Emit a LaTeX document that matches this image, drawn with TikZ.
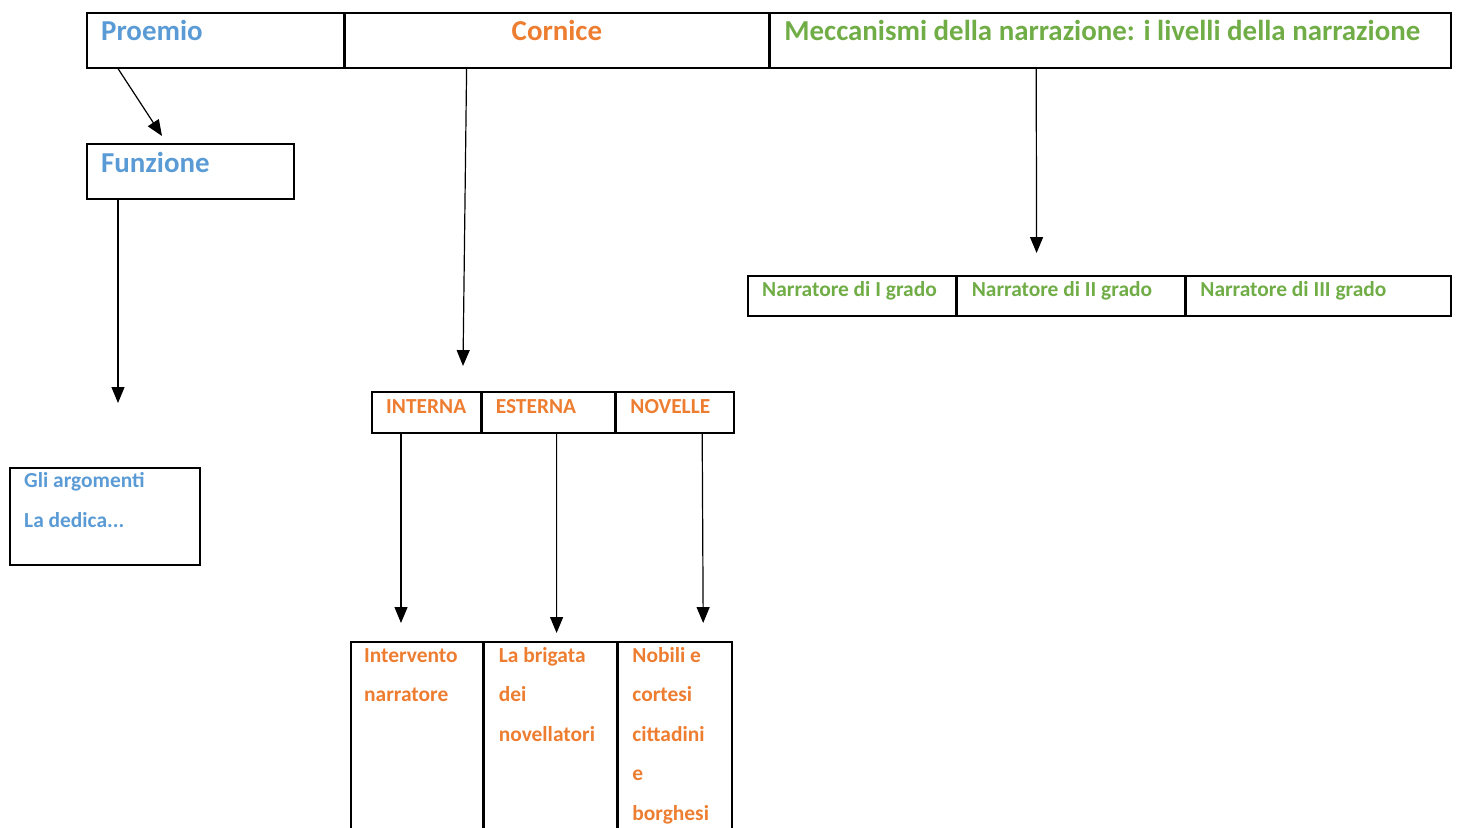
\documentclass[tikz,border=0pt]{standalone}
\usepackage{fontspec}
\setmainfont{Carlito}
\usetikzlibrary{positioning,calc,arrows.meta}
\definecolor{problue}{RGB}{91,155,213}
\definecolor{corange}{RGB}{237,125,49}
\definecolor{mgreen}{RGB}{112,173,71}
\tikzset{
  cell/.style 2 args={draw, line width=1.6, inner sep=0, anchor=north west, minimum width=#1bp, minimum height=#2bp},
  bigtxt/.style={font=\bfseries\fontsize{29}{34}\selectfont, inner sep=0},
  smalltxt/.style={font=\bfseries\fontsize{21.5}{39.5}\selectfont, align=left, inner sep=0, anchor=base west},
  arr/.style={-{Triangle[length=16,width=13]}, line width=1.2}
}
\begin{document}
\begin{tikzpicture}[x=1bp,y=-1bp]
  \useasboundingbox (0,0) rectangle (1457,827);

  % top row
  \node[cell={257}{55}] (proemio) at (86,12) {};
  \node[cell={423}{55}] (cornice) at (proemio.north east) {};
  \node[cell={681}{55}] (mecc) at (cornice.north east) {};
  \node[bigtxt, problue, anchor=base west] (tproemio) at ($(proemio.north west)+(15,28)$) {Proemio};
  \node[bigtxt, corange, anchor=base] (tcornice) at ($(cornice.north)+(0,28)$) {Cornice};
  \node[bigtxt, mgreen, anchor=base west] (tmecc) at ($(mecc.north west)+(15,28)$) {Meccanismi della narrazione: i livelli della narrazione};

  % proemio branch
  \node[cell={207}{55}] (funz) at (86,143) {};
  \node[bigtxt, problue, anchor=base west] (tfunz) at ($(funz.north west)+(15,29)$) {Funzione};
  \node[cell={190}{97}] (argom) at (9,467) {};
  \node[smalltxt, problue] (targom) at ($(argom.north west)+(15,60)$) {Gli argomenti\\La dedica...};

  % cornice branch
  \node[cell={109}{41}] (interna) at (371,391) {};
  \node[cell={132}{41}] (esterna) at (interna.north east) {};
  \node[cell={118}{41}] (novelle) at (esterna.north east) {};
  \node[smalltxt, corange] (tinterna) at ($(interna.north west)+(15,22)$) {INTERNA};
  \node[smalltxt, corange] (testerna) at ($(esterna.north west)+(14,22)$) {ESTERNA};
  \node[smalltxt, corange] (tnovelle) at ($(novelle.north west)+(15,22)$) {NOVELLE};

  \node[cell={132}{240}] (interv) at (350,641) {};
  \node[cell={132}{240}] (brigata) at (interv.north east) {};
  \node[cell={114}{240}] (nobili) at (brigata.north east) {};
  % base anchor sits on the last line
  \node[smalltxt, corange] (tinterv) at ($(interv.north west)+(14,60.5)$) {Intervento\\narratore};
  \node[smalltxt, corange] (tbrigata) at ($(brigata.north west)+(15,100)$) {La brigata\\dei\\novellatori};
  \node[smalltxt, corange] (tnobili) at ($(nobili.north west)+(15,179)$) {Nobili e\\cortesi\\cittadini\\e\\borghesi};

  % meccanismi branch
  \node[cell={208}{40}] (narr1) at (747,275) {};
  \node[cell={227}{40}] (narr2) at (narr1.north east) {};
  \node[cell={265}{40}] (narr3) at (narr2.north east) {};
  \node[smalltxt, mgreen] (tnarr1) at ($(narr1.north west)+(15,21)$) {Narratore di I grado};
  \node[smalltxt, mgreen] (tnarr2) at ($(narr2.north west)+(15,21)$) {Narratore di II grado};
  \node[smalltxt, mgreen] (tnarr3) at ($(narr3.north west)+(15,21)$) {Narratore di III grado};

  % arrows
  \draw[arr] ($(proemio.south west)+(32,0)$) -- ($(funz.north west)+(76,-7)$);
  \draw[arr] ($(funz.south west)+(32,0)$) -- ($(argom.north west)+(109,-64)$);
  \draw[arr] ($(cornice.south west)+(122,0)$) -- ($(interna.north west)+(92,-25)$);
  \draw[arr] ($(mecc.south west)+(267,0)$) -- ($(narr2.north west)+(80,-22)$);
  \draw[arr] ($(interna.south west)+(30,0)$) -- ($(interv.north west)+(51,-18)$);
  \draw[arr] ($(esterna.south west)+(75,0)$) -- ($(brigata.north west)+(73,-8)$);
  \draw[arr] ($(novelle.south west)+(87,0)$) -- ($(nobili.north west)+(86,-18)$);
\end{tikzpicture}
\end{document}
